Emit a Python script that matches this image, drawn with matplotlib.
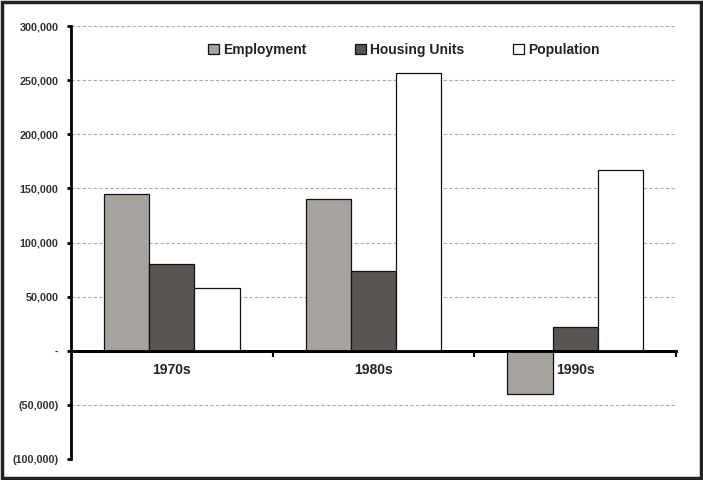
import matplotlib.pyplot as plt
import numpy as np
from matplotlib.ticker import FuncFormatter

plt.rcParams['font.family'] = ['Liberation Sans', 'DejaVu Sans']

# Data
decades = ["1970s", "1980s", "1990s"]
employment = [145000, 140000, -40000]
housing_units = [80000, 74000, 22000]
population = [58000, 257000, 167000]

series_names = ["Employment", "Housing Units", "Population"]
colors = ["#a6a29e", "#5a5553", "#ffffff"]


def fmt(v, pos):
    if v == 0:
        return "-"
    if v < 0:
        return "({:,.0f})".format(-v)
    return "{:,.0f}".format(v)


fig = plt.figure(figsize=(7.03, 4.8), dpi=100)
ax = fig.add_axes([71 / 703, 1 - 459 / 480, 605 / 703, 433 / 480])

x = np.arange(len(decades))
w = 0.224
for i, (vals, name, c) in enumerate(zip([employment, housing_units, population], series_names, colors)):
    ax.bar(x + (i - 1) * w, vals, w, color=c, edgecolor="#111111", linewidth=0.9, label=name, zorder=3)

ax.set_xlim(-0.5, 2.5)
ax.set_ylim(-100000, 300000)
ax.set_yticks(np.arange(-100000, 300001, 50000))
ax.yaxis.set_major_formatter(FuncFormatter(fmt))
for t in ax.get_yticklabels():
    t.set_fontweight("bold")
    t.set_color("#333333")
    t.set_fontsize(7.8)

for v in np.arange(-50000, 300001, 50000):
    if v != 0:
        ax.axhline(v, color="#aaaaaa", linestyle=(0, (3, 2)), linewidth=0.8, zorder=1)

ax.axhline(0, color="black", linewidth=2, zorder=4)
ax.set_xticks([0.5, 1.5, 2.5])
ax.set_xticklabels([])
ax.tick_params(axis="x", direction="out", length=4, width=1.5, color="black")
ax.tick_params(axis="y", direction="out", length=3, width=2, color="black", pad=6)

for xi, d in zip(x, decades):
    ax.text(xi, -18000, d, ha="center", va="center", fontsize=10, fontweight="bold", color="#222222", zorder=5)

# spines
for s in ["top", "right"]:
    ax.spines[s].set_visible(False)
ax.spines["left"].set_linewidth(2)
# x axis sits on the zero line
ax.xaxis.set_ticks_position("bottom")
ax.spines["bottom"].set_position(("data", 0))
ax.spines["bottom"].set_linewidth(2)

leg = ax.legend(loc="upper center", bbox_to_anchor=(0.55, 0.99), ncol=3, frameon=False,
                prop={"weight": "bold", "size": 10}, handlelength=0.8, handleheight=0.8,
                columnspacing=3.5, handletextpad=0.3)
for t in leg.get_texts():
    t.set_color("#222222")

# outer frame
fig.patches.append(plt.Rectangle((0.003, 0.004), 0.994, 0.992, transform=fig.transFigure,
                                 fill=False, edgecolor="#222222", linewidth=2.5))

plt.savefig("out.png", dpi=100)
plt.close()
